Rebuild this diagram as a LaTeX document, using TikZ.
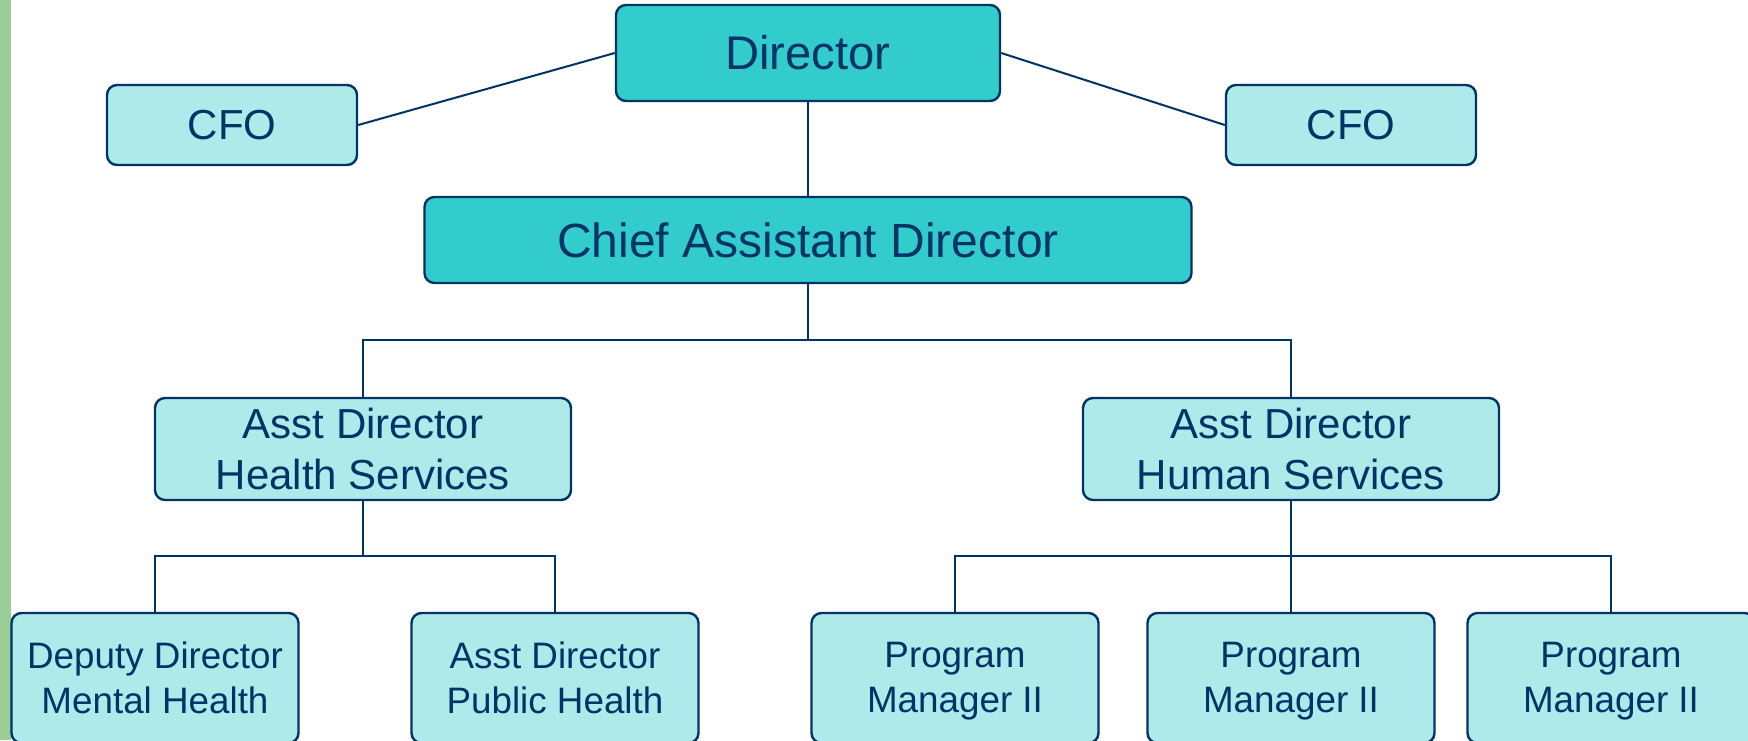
\documentclass[tikz,border=0pt]{standalone}
\usepackage{fontspec}
\setmainfont{Liberation Sans}
\definecolor{navy}{RGB}{0,51,102}
\definecolor{tealfill}{RGB}{51,204,204}
\definecolor{palefill}{RGB}{174,234,234}
\definecolor{sidegreen}{RGB}{155,205,150}
\tikzset{
	box/.style={draw=navy, line width=1.2pt, rounded corners=5pt, text=navy,
		align=center, inner sep=0pt},
	topbox/.style={box, fill=tealfill},
	subbox/.style={box, fill=palefill},
	link/.style={draw=navy, line width=1pt}
}
\begin{document}
\begin{tikzpicture}[x=0.5pt, y=-0.5pt]
	\useasboundingbox (0,0) rectangle (1748,740);
	% Streifen links
	\fill[sidegreen] (0,0) rectangle (11,740);
	% obere Ebene
	\node[topbox, minimum width=192pt, minimum height=48pt,
		font=\fontsize{23.6}{28}\selectfont] (dir) at (808,53) {Director};
	\node[subbox, minimum width=125pt, minimum height=40pt,
		font=\fontsize{21}{25}\selectfont] (cfoL) at (232,125) {CFO};
	\node[subbox, minimum width=125pt, minimum height=40pt,
		font=\fontsize{21}{25}\selectfont] (cfoR) at (1351,125) {CFO};
	\node[topbox, minimum width=383.5pt, minimum height=43pt,
		font=\fontsize{24}{28}\selectfont] (cad) at (808,240) {Chief Assistant Director};
	% Asst Directors
	\node[subbox, minimum width=208pt, minimum height=51pt,
		font=\fontsize{21}{25.5}\selectfont] (adH) at (363,449) {Asst Director\\Health Services};
	\node[subbox, minimum width=208pt, minimum height=51pt,
		font=\fontsize{21}{25.5}\selectfont] (adS) at (1291,449) {Asst Director\\Human Services};
	% untere Ebene
	\node[subbox, minimum width=143.5pt, minimum height=65pt,
		font=\fontsize{18.4}{22.3}\selectfont] (dd) at (155,678) {Deputy Director\\Mental Health};
	\node[subbox, minimum width=143.5pt, minimum height=65pt,
		font=\fontsize{18.4}{22.3}\selectfont] (ap) at (555,678) {Asst Director\\Public Health};
	\node[subbox, minimum width=143.5pt, minimum height=65pt,
		font=\fontsize{18.4}{22.3}\selectfont] (pm1) at (955,678) {\strut Program\\Manager II};
	\node[subbox, minimum width=143.5pt, minimum height=65pt,
		font=\fontsize{18.4}{22.3}\selectfont] (pm2) at (1291,678) {\strut Program\\Manager II};
	\node[subbox, minimum width=143.5pt, minimum height=65pt,
		font=\fontsize{18.4}{22.3}\selectfont] (pm3) at (1611,678) {\strut Program\\Manager II};
	% Verbindungen
	\coordinate (bus1) at (808,340);
	\coordinate (bus2) at (363,556);
	\coordinate (bus3) at (1291,556);
	\draw[link] (dir.west) -- (cfoL.east);
	\draw[link] (dir.east) -- (cfoR.west);
	\draw[link] (dir.south) -- (cad.north);
	\draw[link] (cad.south) -- (bus1);
	\draw[link] (adH.north) |- (bus1) -| (adS.north);
	\draw[link] (adH.south) -- (bus2);
	\draw[link] (dd.north) |- (bus2) -| (ap.north);
	\draw[link] (adS.south) -- (pm2.north);
	\draw[link] (pm1.north) |- (bus3) -| (pm3.north);
\end{tikzpicture}
\end{document}
